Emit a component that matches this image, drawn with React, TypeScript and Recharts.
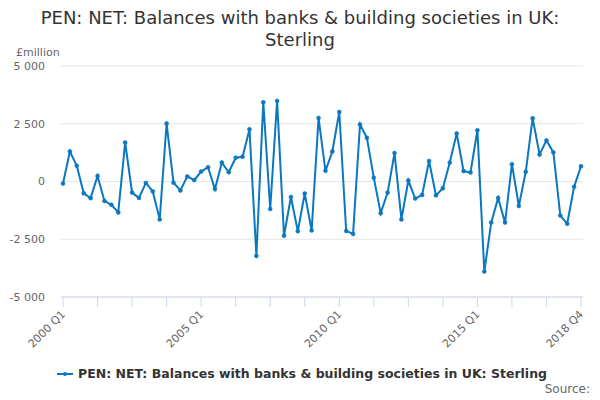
import React from 'react';
import { LineChart, Line, XAxis, YAxis, CartesianGrid } from 'recharts';

// quarterly categories 2000 Q1 .. 2018 Q4
const years = [2000, 2001, 2002, 2003, 2004, 2005, 2006, 2007, 2008, 2009, 2010, 2011, 2012, 2013, 2014, 2015, 2016, 2017, 2018];
const quarters: string[] = years.flatMap((y) => [`${y} Q1`, `${y} Q2`, `${y} Q3`, `${y} Q4`]);

// £million
const balances = [
  -90, 1300, 680, -510, -720, 240, -840, -1010, -1340, 1690,
  -480, -710, -60, -430, -1640, 2510, -50, -390, 220, 60,
  430, 620, -330, 820, 400, 1030, 1070, 2260, -3220, 3430,
  -1190, 3490, -2350, -670, -2150, -520, -2120, 2750, 460, 1300,
  3010, -2140, -2270, 2470, 1890, 160, -1370, -480, 1230, -1640,
  40, -740, -580, 890, -600, -290, 820, 2080, 450, 390,
  2220, -3900, -1780, -710, -1780, 750, -1060, 420, 2740, 1170,
  1780, 1260, -1470, -1830, -230, 660,
];

const tickQuarters = quarters.filter((_, i) => i % 5 === 0);
const labelledQuarters = ['2000 Q1', '2005 Q1', '2010 Q1', '2015 Q1', '2018 Q4'];
const yTicks = [-5000, -2500, 0, 2500, 5000];

const seriesName = 'PEN: NET: Balances with banks & building societies in UK: Sterling';
const lineColor = '#0a77c0';

const data = quarters.map((q, i) => ({ quarter: q, value: balances[i] }));

const formatThousands = (v: number) => {
  const s = Math.abs(v).toString().replace(/\B(?=(\d{3})+(?!\d))/g, ' ');
  return v < 0 ? `-${s}` : s;
};

const QuarterTick = (props: any) => {
  const { x, y, payload } = props;
  if (!labelledQuarters.includes(payload.value)) return <g />;
  return (
    <g transform={`translate(${x + 3},${y + 6})`}>
      <text x={0} y={0} textAnchor="end" fill="#666" fontSize={11} transform="rotate(-45)">
        {payload.value}
      </text>
    </g>
  );
};

export default function App() {
  return (
    <div
      style={{
        position: 'absolute',
        left: 0,
        top: 0,
        width: 600,
        height: 400,
        background: '#fff',
        fontFamily: '"DejaVu Sans", sans-serif',
      }}
    >
      <div
        style={{
          position: 'absolute',
          top: 7,
          left: 0,
          width: 600,
          textAlign: 'center',
          fontSize: 18,
          lineHeight: '21.5px',
          color: '#333',
        }}
      >
        PEN: NET: Balances with banks &amp; building societies in UK:
        <br />
        Sterling
      </div>
      <div style={{ position: 'absolute', left: 16, top: 46, fontSize: 11, lineHeight: '14px', color: '#666' }}>
        £million
      </div>

      <LineChart width={600} height={400} data={data} margin={{ top: 66, right: 17, bottom: 0, left: 0 }}>
        <CartesianGrid vertical={false} stroke="#e6e6e6" />
        <XAxis
          dataKey="quarter"
          type="category"
          ticks={tickQuarters}
          interval={0}
          height={103}
          padding={{ left: 2, right: 2 }}
          axisLine={{ stroke: '#ccd6eb' }}
          tickLine={{ stroke: '#ccd6eb' }}
          tickSize={10}
          tick={<QuarterTick />}
        />
        <YAxis
          width={61}
          domain={[-5000, 5000]}
          ticks={yTicks}
          axisLine={false}
          tickLine={false}
          tickSize={0}
          tickMargin={16}
          tick={{ fill: '#666', fontSize: 11 }}
          tickFormatter={formatThousands}
        />
        <Line
          type="linear"
          dataKey="value"
          name={seriesName}
          stroke={lineColor}
          strokeWidth={2}
          dot={{ r: 2, fill: lineColor, stroke: lineColor, strokeWidth: 0.5 }}
          activeDot={false}
          isAnimationActive={false}
        />
      </LineChart>

      <div
        style={{
          position: 'absolute',
          left: 57,
          top: 365,
          height: 17,
          display: 'flex',
          alignItems: 'center',
          fontSize: 12.5,
          fontWeight: 'bold',
          color: '#333',
          whiteSpace: 'nowrap',
        }}
      >
        <svg width={16} height={10} style={{ marginRight: 5 }}>
          <line x1={0} y1={5} x2={16} y2={5} stroke={lineColor} strokeWidth={2} />
          <circle cx={8} cy={5} r={2} fill={lineColor} />
        </svg>
        {seriesName}
      </div>
      <div style={{ position: 'absolute', right: 10, top: 381, fontSize: 12, lineHeight: '16px', color: '#666' }}>
        Source:
      </div>
    </div>
  );
}
